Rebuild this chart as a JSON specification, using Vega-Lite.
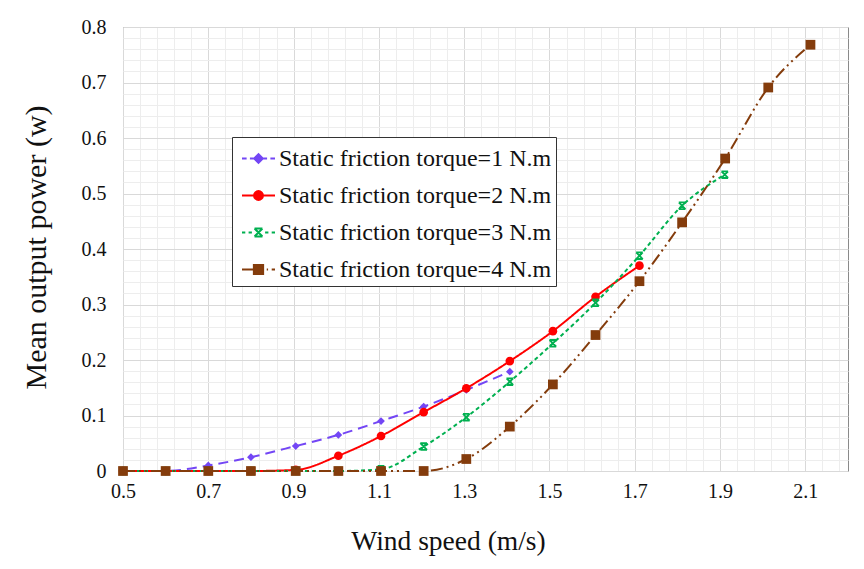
{
  "$schema": "https://vega.github.io/schema/vega-lite/v6.json",
  "width": 725,
  "height": 444,
  "autosize": "none",
  "padding": {"left": 123, "top": 27, "right": 16, "bottom": 98},
  "background": "white",
  "config": {
    "view": {"stroke": "#8a8a8a", "strokeWidth": 1},
    "axis": {"labelFont": "Liberation Serif", "titleFont": "Liberation Serif", "labelColor": "#111", "titleColor": "#111", "titleFontWeight": "normal", "labelFlush": false},
    "legend": {"title": null, "orient": "none", "legendX": 109, "legendY": 110,
      "strokeColor": "#333", "fillColor": "white", "padding": 4,
      "symbolSize": 1089, "symbolOffset": 5, "labelOffset": 3, "rowPadding": 7,
      "symbolStrokeWidth": 2, "symbolOpacity": 1,
      "labelFont": "Liberation Serif", "labelFontSize": 24, "labelColor": "#111", "labelLimit": 500}
  },
  "data": {"values": [
    {"s": "Static friction torque=1 N.m", "x": 0.5, "y": 0},
    {"s": "Static friction torque=1 N.m", "x": 0.6, "y": 0},
    {"s": "Static friction torque=1 N.m", "x": 0.7, "y": 0.010},
    {"s": "Static friction torque=1 N.m", "x": 0.8, "y": 0.025},
    {"s": "Static friction torque=1 N.m", "x": 0.905, "y": 0.045},
    {"s": "Static friction torque=1 N.m", "x": 1.005, "y": 0.065},
    {"s": "Static friction torque=1 N.m", "x": 1.105, "y": 0.090},
    {"s": "Static friction torque=1 N.m", "x": 1.205, "y": 0.116},
    {"s": "Static friction torque=1 N.m", "x": 1.305, "y": 0.146},
    {"s": "Static friction torque=1 N.m", "x": 1.407, "y": 0.179},
    {"s": "Static friction torque=2 N.m", "x": 0.5, "y": 0},
    {"s": "Static friction torque=2 N.m", "x": 0.6, "y": 0},
    {"s": "Static friction torque=2 N.m", "x": 0.7, "y": 0},
    {"s": "Static friction torque=2 N.m", "x": 0.8, "y": 0},
    {"s": "Static friction torque=2 N.m", "x": 0.905, "y": 0.002},
    {"s": "Static friction torque=2 N.m", "x": 1.005, "y": 0.0275},
    {"s": "Static friction torque=2 N.m", "x": 1.105, "y": 0.063},
    {"s": "Static friction torque=2 N.m", "x": 1.205, "y": 0.106},
    {"s": "Static friction torque=2 N.m", "x": 1.305, "y": 0.149},
    {"s": "Static friction torque=2 N.m", "x": 1.407, "y": 0.198},
    {"s": "Static friction torque=2 N.m", "x": 1.508, "y": 0.252},
    {"s": "Static friction torque=2 N.m", "x": 1.608, "y": 0.314},
    {"s": "Static friction torque=2 N.m", "x": 1.711, "y": 0.370},
    {"s": "Static friction torque=3 N.m", "x": 0.5, "y": 0},
    {"s": "Static friction torque=3 N.m", "x": 0.6, "y": 0},
    {"s": "Static friction torque=3 N.m", "x": 0.7, "y": 0},
    {"s": "Static friction torque=3 N.m", "x": 0.8, "y": 0},
    {"s": "Static friction torque=3 N.m", "x": 0.905, "y": 0},
    {"s": "Static friction torque=3 N.m", "x": 1.005, "y": 0},
    {"s": "Static friction torque=3 N.m", "x": 1.105, "y": 0.003},
    {"s": "Static friction torque=3 N.m", "x": 1.205, "y": 0.044},
    {"s": "Static friction torque=3 N.m", "x": 1.305, "y": 0.097},
    {"s": "Static friction torque=3 N.m", "x": 1.407, "y": 0.161},
    {"s": "Static friction torque=3 N.m", "x": 1.508, "y": 0.230},
    {"s": "Static friction torque=3 N.m", "x": 1.608, "y": 0.303},
    {"s": "Static friction torque=3 N.m", "x": 1.711, "y": 0.388},
    {"s": "Static friction torque=3 N.m", "x": 1.811, "y": 0.478},
    {"s": "Static friction torque=3 N.m", "x": 1.911, "y": 0.534},
    {"s": "Static friction torque=4 N.m", "x": 0.5, "y": 0},
    {"s": "Static friction torque=4 N.m", "x": 0.6, "y": 0},
    {"s": "Static friction torque=4 N.m", "x": 0.7, "y": 0},
    {"s": "Static friction torque=4 N.m", "x": 0.8, "y": 0},
    {"s": "Static friction torque=4 N.m", "x": 0.905, "y": 0},
    {"s": "Static friction torque=4 N.m", "x": 1.005, "y": 0},
    {"s": "Static friction torque=4 N.m", "x": 1.105, "y": 0},
    {"s": "Static friction torque=4 N.m", "x": 1.205, "y": 0},
    {"s": "Static friction torque=4 N.m", "x": 1.305, "y": 0.0216},
    {"s": "Static friction torque=4 N.m", "x": 1.407, "y": 0.080},
    {"s": "Static friction torque=4 N.m", "x": 1.508, "y": 0.156},
    {"s": "Static friction torque=4 N.m", "x": 1.608, "y": 0.245},
    {"s": "Static friction torque=4 N.m", "x": 1.711, "y": 0.342},
    {"s": "Static friction torque=4 N.m", "x": 1.811, "y": 0.448},
    {"s": "Static friction torque=4 N.m", "x": 1.912, "y": 0.563},
    {"s": "Static friction torque=4 N.m", "x": 2.013, "y": 0.691},
    {"s": "Static friction torque=4 N.m", "x": 2.112, "y": 0.768}
  ]},
  "layer": [
    {
      "mark": {"type": "point", "opacity": 0, "filled": true},
      "encoding": {
        "x": {"field": "x", "type": "quantitative", "scale": {"domain": [0.5, 2.2], "nice": false, "zero": false},
          "axis": {"orient": "top", "values": [0.54,0.58,0.62,0.66,0.74,0.78,0.82,0.86,0.94,0.98,1.02,1.06,1.14,1.18,1.22,1.26,1.34,1.38,1.42,1.46,1.54,1.58,1.62,1.66,1.74,1.78,1.82,1.86,1.94,1.98,2.02,2.06,2.14,2.18],
            "grid": true, "gridColor": "#ededed", "labels": false, "ticks": false, "domain": false, "title": null}},
        "y": {"field": "y", "type": "quantitative", "scale": {"domain": [0, 0.8], "nice": false},
          "axis": {"orient": "right", "values": [0.02,0.04,0.06,0.08,0.12,0.14,0.16,0.18,0.22,0.24,0.26,0.28,0.32,0.34,0.36,0.38,0.42,0.44,0.46,0.48,0.52,0.54,0.56,0.58,0.62,0.64,0.66,0.68,0.72,0.74,0.76,0.78],
            "grid": true, "gridColor": "#ededed", "labels": false, "ticks": false, "domain": false, "title": null}},
        "fill": {"field": "s", "type": "nominal",
          "scale": {"domain": ["Static friction torque=1 N.m", "Static friction torque=2 N.m", "Static friction torque=3 N.m", "Static friction torque=4 N.m"],
                    "range": ["#7346f5", "#ff0000", "#00b050", "#843c0c"]}},
        "stroke": {"field": "s", "type": "nominal",
          "scale": {"domain": ["Static friction torque=1 N.m", "Static friction torque=2 N.m", "Static friction torque=3 N.m", "Static friction torque=4 N.m"],
                    "range": ["#7346f5", "#ff0000", "#00b050", "#843c0c"]}},
        "shape": {"field": "s", "type": "nominal",
          "scale": {"domain": ["Static friction torque=1 N.m", "Static friction torque=2 N.m", "Static friction torque=3 N.m", "Static friction torque=4 N.m"],
                    "range": [
                      "M-1,0H-0.72M-0.52,0H-0.3M0.3,0H0.52M0.72,0H1M-0.26,0L0,-0.26L0.26,0L0,0.26Z",
                      "M-1,0H1M0.27,0A0.27,0.27,0,1,1,-0.27,0A0.27,0.27,0,1,1,0.27,0Z",
                      "M-1,0H-0.8M-0.6,0H-0.4M0.4,0H0.6M0.8,0H1M-0.24,-0.24L0.24,0.24M0.24,-0.24L-0.24,0.24M-0.24,-0.24H0.24M-0.24,0.24H0.24",
                      "M-1,0H-0.3M-0.28,-0.28H0.28V0.28H-0.28ZM0.5,0H0.58M0.8,0H1"]}}
      }
    },
    {
      "mark": {"type": "line", "interpolate": "monotone", "strokeWidth": 2},
      "encoding": {
        "x": {"field": "x", "type": "quantitative",
          "axis": {"orient": "bottom", "values": [0.5, 0.7, 0.9, 1.1, 1.3, 1.5, 1.7, 1.9, 2.1], "format": ".1f",
            "grid": true, "gridColor": "#d9d9d9", "ticks": false, "domain": false,
            "labelFont": "Liberation Serif", "labelFontSize": 20, "labelPadding": 10, "labelFlush": false,
            "title": "Wind speed (m/s)", "titleFontSize": 27.5, "titleX": 325, "titleY": 78, "titleBaseline": "alphabetic"}},
        "y": {"field": "y", "type": "quantitative",
          "axis": {"orient": "left", "values": [0, 0.1, 0.2, 0.3, 0.4, 0.5, 0.6, 0.7, 0.8], "format": "~g",
            "grid": true, "gridColor": "#d9d9d9", "ticks": false, "domain": false,
            "labelFont": "Liberation Serif", "labelFontSize": 20, "labelPadding": 17, "labelFlush": false,
            "title": "Mean output power (w)", "titleFontSize": 30, "titleX": -87, "titleY": 220, "titleBaseline": "middle"}},
        "color": {"field": "s", "type": "nominal",
          "scale": {"range": ["#7346f5", "#ff0000", "#00b050", "#843c0c"]}, "legend": null},
        "strokeDash": {"field": "s", "type": "nominal",
          "scale": {"range": [[10, 6], [1, 0], [4, 3], [12, 4, 2, 4, 2, 4]]}, "legend": null}
      }
    },
    {
      "transform": [{"filter": "datum.s == 'Static friction torque=1 N.m'"}],
      "mark": {"type": "point", "shape": "diamond", "size": 60, "filled": true, "color": "#7346f5", "opacity": 1},
      "encoding": {
        "x": {"field": "x", "type": "quantitative", "axis": null},
        "y": {"field": "y", "type": "quantitative", "axis": null}
      }
    },
    {
      "transform": [{"filter": "datum.s == 'Static friction torque=2 N.m'"}],
      "mark": {"type": "point", "shape": "circle", "size": 75, "filled": true, "color": "#ff0000", "opacity": 1},
      "encoding": {
        "x": {"field": "x", "type": "quantitative", "axis": null},
        "y": {"field": "y", "type": "quantitative", "axis": null}
      }
    },
    {
      "transform": [{"filter": "datum.s == 'Static friction torque=3 N.m'"}],
      "mark": {"type": "point", "shape": "M-1,-1L1,1M1,-1L-1,1M-1,-1H1M-1,1H1", "size": 45, "filled": false, "color": "#00b050", "strokeWidth": 1.8, "opacity": 1},
      "encoding": {
        "x": {"field": "x", "type": "quantitative", "axis": null},
        "y": {"field": "y", "type": "quantitative", "axis": null}
      }
    },
    {
      "transform": [{"filter": "datum.s == 'Static friction torque=4 N.m'"}],
      "mark": {"type": "point", "shape": "square", "size": 95, "filled": true, "color": "#843c0c", "opacity": 1},
      "encoding": {
        "x": {"field": "x", "type": "quantitative", "axis": null},
        "y": {"field": "y", "type": "quantitative", "axis": null}
      }
    }
  ],
  "resolve": {"axis": {"x": "independent", "y": "independent"}}
}
